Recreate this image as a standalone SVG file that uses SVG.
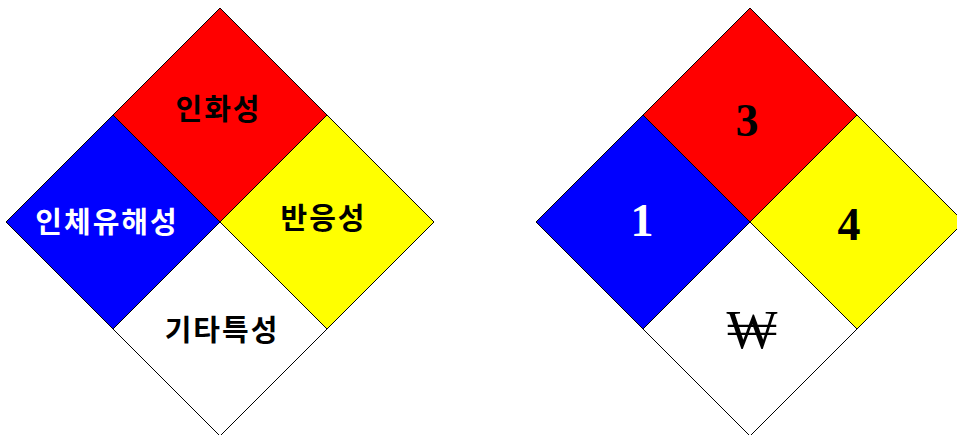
<svg xmlns="http://www.w3.org/2000/svg" width="957" height="435" viewBox="0 0 957 435">
<style>
.q{stroke:#000;stroke-width:1}
.r{fill:#ff0000}.b{fill:#0000ff}.y{fill:#ffff00}.w{fill:#ffffff}
.k{font-family:"Noto Sans CJK KR","Noto Sans",sans-serif;font-size:29px;font-weight:bold;text-anchor:middle;letter-spacing:2px}
.n{font-family:"Liberation Serif","DejaVu Serif",serif;font-size:46px;font-weight:bold;text-anchor:middle}
</style>
<rect width="957" height="435" fill="#fff"/>
<g id="left">
<g id="l-red"><polygon class="q r" points="220,8 327,115 220,222 113,115"/><text class="k" x="218.5" y="120" fill="#000">인화성</text></g>
<g id="l-blue"><polygon class="q b" points="113,115 220,222 113,329 6,222"/><text class="k" x="107" y="233" fill="#fff">인체유해성</text></g>
<g id="l-yellow"><polygon class="q y" points="327,115 434,222 327,329 220,222"/><text class="k" x="323.5" y="229" fill="#000">반응성</text></g>
<g id="l-white"><polygon class="q w" points="220,222 327,329 220,436 113,329"/><text class="k" x="222" y="341" fill="#000">기타특성</text></g>
</g>
<g id="right">
<g id="r-red"><polygon class="q r" points="750,8 857,115 750,222 643,115"/><text class="n" x="747" y="136" fill="#000">3</text></g>
<g id="r-blue"><polygon class="q b" points="643,115 750,222 643,329 536,222"/><text class="n" x="642" y="236" fill="#fff">1</text></g>
<g id="r-yellow"><polygon class="q y" points="857,115 964,222 857,329 750,222"/><text class="n" x="849" y="240" fill="#000">4</text></g>
<g id="r-white"><polygon class="q w" points="750,222 857,329 750,436 643,329"/><text x="752" y="348" font-family="Liberation Serif,DejaVu Serif,serif" font-size="54" text-anchor="middle" fill="#000">₩</text></g>
</g>
<g id="connectors"/>
</svg>
